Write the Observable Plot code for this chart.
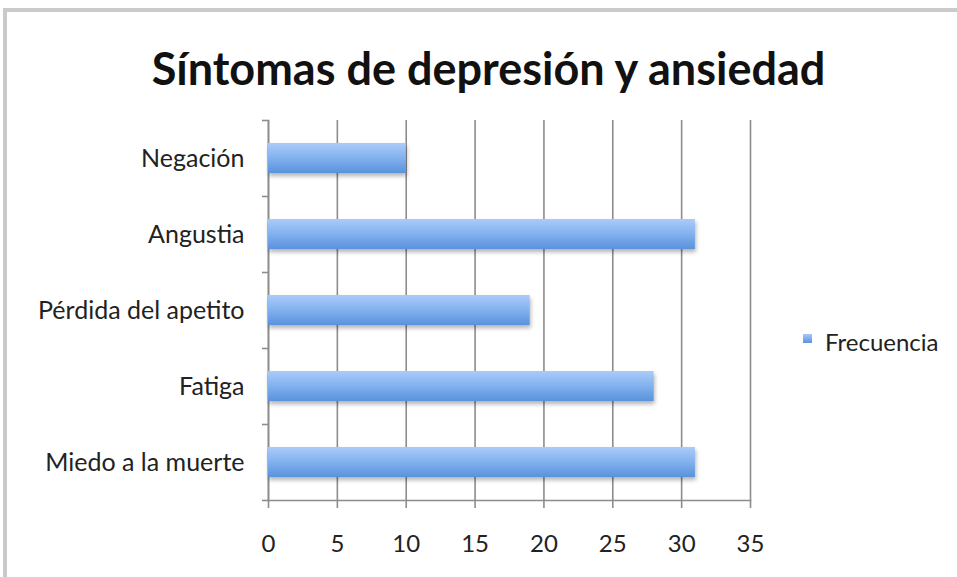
<!DOCTYPE html>
<html><head><meta charset="utf-8">
<script src="https://cdn.jsdelivr.net/npm/d3@7"></script>
<script src="https://cdn.jsdelivr.net/npm/@observablehq/plot@0.6"></script>
<style>
body{margin:0;background:#fff;overflow:hidden;width:957px;height:577px;position:relative}
#frame{position:absolute;left:3px;top:8px;width:2000px;height:2000px;border-top:4px solid #cacaca;border-left:4px solid #cacaca}
#chart{position:absolute;left:0;top:0}
#legend{position:absolute;left:803px;top:327px;font-family:Lato,sans-serif;font-size:24px;color:#222;display:flex;align-items:center}
#legend span.sw{display:inline-block;width:9px;height:9px;background:linear-gradient(#a8c9f8,#5b93dc);margin-right:13px;margin-top:-6px}
</style></head><body><div id="frame"></div><div id="chart"></div>
<div id="legend"><span class="sw"></span><span id="legtext"></span></div>
<script>
const categories = ["Negación","Angustia","Pérdida del apetito","Fatiga","Miedo a la muerte"];
const values = [10, 31, 19, 28, 31];
const xTicks = [0, 5, 10, 15, 20, 25, 30, 35];
const seriesName = "Frecuencia";
const title = "Síntomas de depresión y ansiedad";

const data = categories.map((c, i) => ({category: c, value: values[i]}));
const W = 957, H = 577, mt = 120, mb = 77;
const step = (H - mt - mb) / categories.length;
const grey = "#8c8c8c";

const plot = Plot.plot({
  width: W, height: H,
  marginLeft: 268, marginRight: 207, marginTop: mt, marginBottom: mb,
  style: {fontFamily: "Lato, sans-serif", fontSize: "25px", color: "#222", background: "transparent", overflow: "visible"},
  x: {domain: [0, 35], ticks: xTicks, label: null},
  y: {domain: categories, paddingInner: 0.6, paddingOuter: 0.3, label: null},
  marks: [
    Plot.gridX(xTicks, {stroke: grey, strokeOpacity: 1, strokeWidth: 1.6}),
    Plot.frame({anchor: "bottom", stroke: grey, strokeWidth: 1.6}),
    Plot.frame({anchor: "left", stroke: grey, strokeWidth: 1.6}),
    Plot.barX(data, {x: "value", y: "category", fill: "url(#barGrad)"}),
    Plot.axisX(xTicks, {tickSize: 8, stroke: grey, strokeWidth: 1.6, tickPadding: 26, fontSize: 24, fill: "#222", label: null}),
    Plot.axisY({tickSize: 0, tickPadding: 24, fontSize: 25, fill: "#222", label: null}),
    Plot.axisY({text: null, tickSize: 6, dy: -step / 2, stroke: grey, strokeWidth: 1.6, label: null}),
    Plot.axisY([categories[categories.length - 1]], {text: null, tickSize: 6, dy: step / 2, stroke: grey, strokeWidth: 1.6, label: null}),
    Plot.text([title], {frameAnchor: "top", lineAnchor: "middle", dx: -21, dy: -50, fontSize: 45, fontWeight: "bold", fill: "#111"})
  ]
});

const svg = d3.select(plot);
const grad = svg.insert("defs", ":first-child").append("linearGradient")
  .attr("id", "barGrad").attr("x1", 0).attr("y1", 0).attr("x2", 0).attr("y2", 1);
grad.append("stop").attr("offset", "0%").attr("stop-color", "#abcbf9");
grad.append("stop").attr("offset", "45%").attr("stop-color", "#86b4f0");
grad.append("stop").attr("offset", "100%").attr("stop-color", "#5a92db");
svg.selectAll("g[aria-label=bar] rect").style("filter", "drop-shadow(1px 3px 2px rgba(0,0,0,0.3))");

document.getElementById("chart").appendChild(plot);
document.getElementById("legtext").textContent = seriesName;
</script>
</body></html>
